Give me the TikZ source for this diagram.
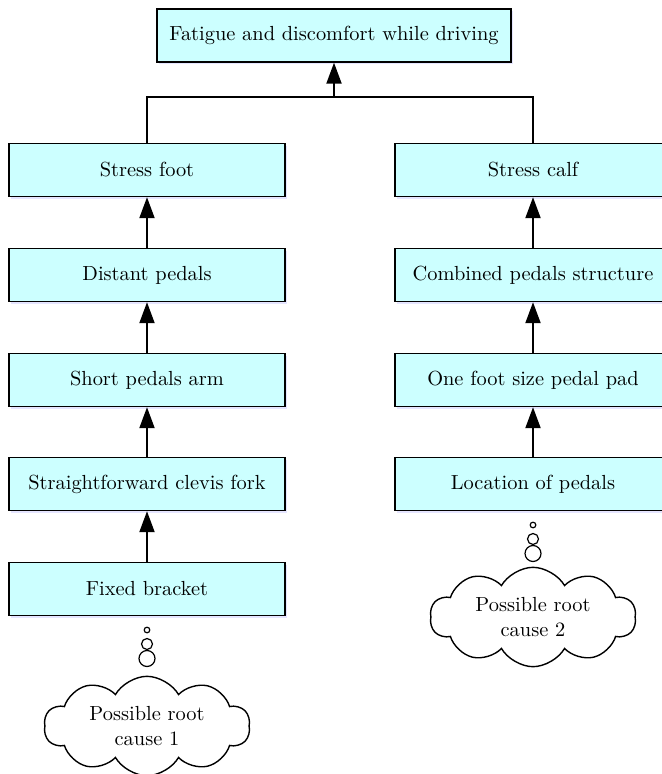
\documentclass[tikz,border=0pt]{standalone}
\usetikzlibrary{arrows.meta,shapes.symbols,shadows}
\definecolor{bc}{RGB}{204,255,255}
\tikzset{bx/.style={draw,fill=bc,line width=.7pt,minimum width=138pt,minimum height=26.5pt,
   drop shadow={shadow xshift=1pt,shadow yshift=-1.2pt,opacity=.25,fill=blue!40}},
 wire/.style={line width=1pt},arr/.style={wire,-{Triangle[length=10.5pt,width=7.5pt]}},
 bub/.style={draw,circle,line width=.6pt,inner sep=0pt},
 thought/.style={draw,cloud,cloud puffs=10,cloud puff arc=120,aspect=2.2,line width=.7pt,
   minimum width=103pt,minimum height=46pt,align=center,inner sep=0pt},
 every node/.style={font=\fontsize{10.2}{12.5}\selectfont}}
\begin{document}
\begin{tikzpicture}[x=.5pt,y=-.5pt]
\useasboundingbox (0,0) rectangle (661,774);
\node[bx,minimum width=177pt] (top) at (334,35.5) {Fatigue and discomfort while driving};
% left chain
\node[bx] (sf) at (147,170) {Stress foot};
\node[bx] (dp) at (147,275) {Distant pedals};
\node[bx] (sa) at (147,380) {Short pedals arm};
\node[bx] (cf) at (147,484) {Straightforward clevis fork};
\node[bx] (fb) at (147,589) {Fixed bracket};
% right chain
\node[bx] (sc) at (533,170) {Stress calf};
\node[bx] (cp) at (533,275) {Combined pedals structure};
\node[bx] (fp) at (533,380) {One foot size pedal pad};
\node[bx] (lp) at (533,484) {Location of pedals};
\coordinate (j) at (334,97);
\draw[wire] (sf.north) |- (j) -| (sc.north);\draw[arr] (j)--(top.south);
\draw[arr] (dp)--(sf);\draw[arr] (sa)--(dp);\draw[arr] (cf)--(sa);\draw[arr] (fb)--(cf);
\draw[arr] (cp)--(sc);\draw[arr] (fp)--(cp);\draw[arr] (lp)--(fp);
% root causes
\node[bub,minimum size=2.8pt] (l1) at (147,630) {};
\node[bub,minimum size=5.5pt] (l2) at (147,644) {};
\node[bub,minimum size=8pt] (l3) at (147,658.5) {};
\node[thought] (rc1) at (147,726) {Possible root\\cause 1};
\node[bub,minimum size=2.8pt] (r1) at (533,525) {};
\node[bub,minimum size=5.5pt] (r2) at (533,539) {};
\node[bub,minimum size=8pt] (r3) at (533,553.5) {};
\node[thought] (rc2) at (533,617) {Possible root\\cause 2};
\end{tikzpicture}
\end{document}
